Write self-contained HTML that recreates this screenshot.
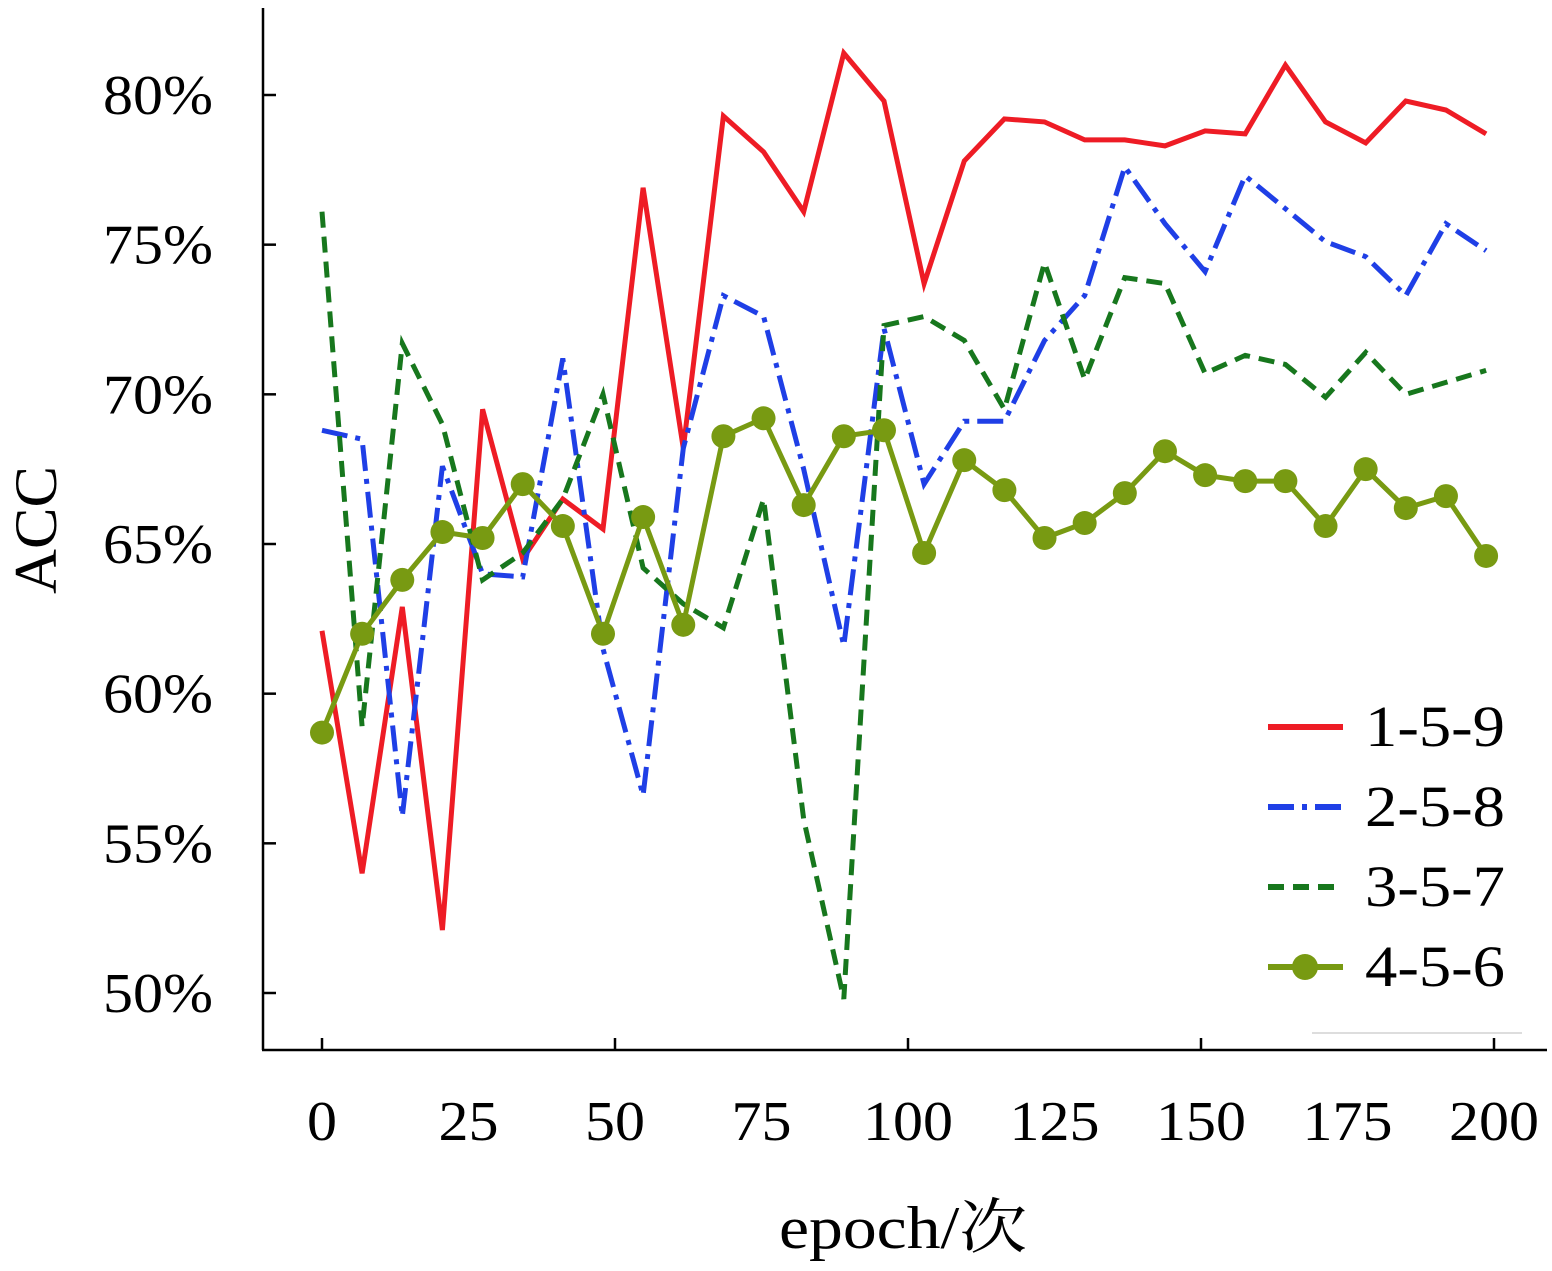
<!DOCTYPE html>
<html><head><meta charset="utf-8">
<style>
html,body{margin:0;padding:0;background:#fff;}
svg{display:block;font-family:"Liberation Serif","Noto Serif CJK SC",serif;}
</style></head>
<body>
<svg id="chart" width="1552" height="1271" viewBox="0 0 1552 1271" xmlns="http://www.w3.org/2000/svg">
<g id="axes"></g>
<g id="series"></g>
<g id="legend"></g>
<line x1="1312" y1="1033" x2="1522" y2="1033" stroke="#ddd" stroke-width="2"/>
<text x="0" y="0" transform="translate(56,530) rotate(-90)" text-anchor="middle" font-size="60" textLength="128" lengthAdjust="spacingAndGlyphs">ACC</text>
<text x="903" y="1248" text-anchor="middle" font-size="60" textLength="248" lengthAdjust="spacingAndGlyphs">epoch/次</text>
</svg>
<script>
const yTicks = [50, 55, 60, 65, 70, 75, 80];
const xTicks = [0, 25, 50, 75, 100, 125, 150, 175, 200];
const epochStep = 6.85;
const names = ["1-5-9", "2-5-8", "3-5-7", "4-5-6"];
const s159 = [62.1,54.0,62.9,52.1,69.5,64.5,66.5,65.5,76.9,68.2,79.3,78.1,76.1,81.4,79.8,73.7,77.8,79.2,79.1,78.5,78.5,78.3,78.8,78.7,81.0,79.1,78.4,79.8,79.5,78.7];
const s258 = [68.8,68.5,55.9,67.6,64.0,63.9,71.2,61.5,56.6,68.2,73.3,72.6,67.5,61.6,72.2,67.0,69.1,69.1,71.8,73.3,77.6,75.7,74.1,77.3,76.2,75.1,74.6,73.3,75.7,74.8];
const s357 = [76.1,58.9,71.7,69.0,63.8,64.7,66.5,70.0,64.2,63.0,62.2,66.5,55.8,49.8,72.3,72.6,71.8,69.5,74.4,70.5,73.9,73.7,70.7,71.3,71.0,69.9,71.4,70.0,70.4,70.8];
const s456 = [58.7,62.0,63.8,65.4,65.2,67.0,65.6,62.0,65.9,62.3,68.6,69.2,66.3,68.6,68.8,64.7,67.8,66.8,65.2,65.7,66.7,68.1,67.3,67.1,67.1,65.6,67.5,66.2,66.6,64.6];

const NS = "http://www.w3.org/2000/svg";
const xS = e => 322 + e * (1494 - 322) / 200;
const yS = v => 95 + (80 - v) * (993 - 95) / 30;
function mk(tag, attrs, parent) {
  const el = document.createElementNS(NS, tag);
  for (const k in attrs) el.setAttribute(k, attrs[k]);
  parent.appendChild(el);
  return el;
}
const axes = document.getElementById('axes');
let a = mk('line', {x1:263, y1:8, x2:263, y2:1050, stroke:'#000', 'stroke-width':2.5}, axes);


a = mk('line', {x1:262, y1:1050, x2:1547, y2:1050, stroke:'#000', 'stroke-width':2.5}, axes);


yTicks.forEach(v => {
  const t = mk('line', {x1:263, y1:yS(v), x2:276, y2:yS(v), stroke:'#000', 'stroke-width':2.5}, axes);
  
  
  const l = mk('text', {x:213, y:yS(v) + 19, 'text-anchor':'end', 'font-size':56, textLength:110, lengthAdjust:'spacingAndGlyphs'}, axes);
  
  
  l.textContent = v + '%';
});
xTicks.forEach((v, i) => {
  if (i % 2 === 0) {
    const t = mk('line', {x1:xS(v), y1:1038, x2:xS(v), y2:1050, stroke:'#000', 'stroke-width':2.5}, axes);
    
    
  }
  const w = String(v).length * 30;
  const l = mk('text', {x:xS(v), y:1140, 'text-anchor':'middle', 'font-size':56, textLength:w, lengthAdjust:'spacingAndGlyphs'}, axes);
  
  
  l.textContent = v;
});
const styles = [
  {data:s159, color:'#ee1c25', dash:'', marker:false},
  {data:s258, color:'#1f3fe6', dash:'26 8 5 8', marker:false},
  {data:s357, color:'#17771d', dash:'16 9', marker:false},
  {data:s456, color:'#789a12', dash:'', marker:true}
];
const series = document.getElementById('series');
styles.forEach((s, si) => {
  const pts = s.data.map((v, i) => xS(i * epochStep).toFixed(1) + ',' + yS(v).toFixed(1)).join(' ');
  const p = mk('polyline', {points:pts, fill:'none', stroke:s.color, 'stroke-width':5, 'stroke-dasharray':s.dash, 'stroke-linejoin':'miter'}, series);
  
  
  if (s.marker) {
    s.data.forEach((v, i) => {
      const c = mk('circle', {cx:xS(i * epochStep), cy:yS(v), r:12, fill:s.color}, series);
      
      
    });
  }
});
const legend = document.getElementById('legend');
const ly = [727, 807, 887, 967];
styles.forEach((s, si) => {
  const l = mk('line', {x1:1268, y1:ly[si], x2:1343, y2:ly[si], stroke:s.color, 'stroke-width':6, 'stroke-dasharray':s.dash}, legend);
  
  
  if (s.marker) {
    const c = mk('circle', {cx:1305, cy:ly[si], r:13, fill:s.color}, legend);
    
    
  }
  const t = mk('text', {x:1365, y:ly[si] + 19, 'font-size':58, textLength:140, lengthAdjust:'spacingAndGlyphs'}, legend);
  
  
  t.textContent = names[si];
});
</script>
</body></html>
